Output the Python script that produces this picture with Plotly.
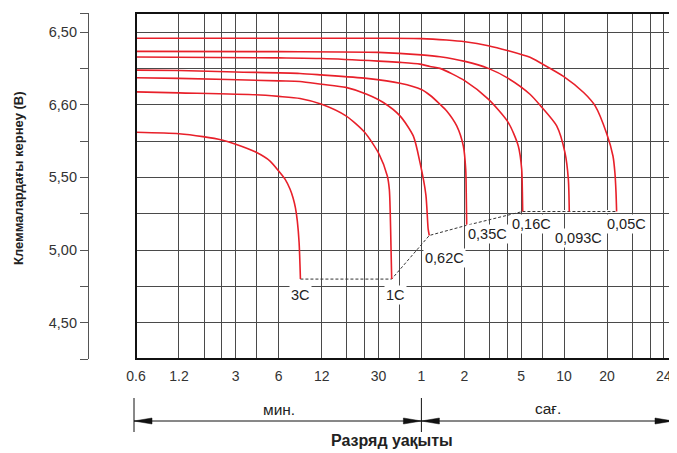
import math
import plotly.graph_objects as go

# ---------------- data (hours, volts) ----------------
c3_h = [0.01, 0.02, 0.0295, 0.04, 0.05, 0.069, 0.087, 0.10, 0.111, 0.12, 0.126, 0.131, 0.135, 0.139, 0.142]
c3_v = [5.81, 5.80, 5.78, 5.757, 5.728, 5.674, 5.612, 5.543, 5.486, 5.42, 5.36, 5.29, 5.20, 5.05, 4.80]

c1_h = [0.01, 0.02, 0.069, 0.10, 0.141, 0.20, 0.296, 0.40, 0.505, 0.577, 0.596, 0.605, 0.612, 0.619]
c1_v = [6.088, 6.081, 6.068, 6.057, 6.043, 6.003, 5.923, 5.81, 5.66, 5.509, 5.417, 5.25, 5.03, 4.80]

c062_h = [0.01, 0.02, 0.1, 0.141, 0.2, 0.296, 0.414, 0.541, 0.708, 0.877, 0.978, 1.075, 1.115, 1.136]
c062_v = [6.185, 6.181, 6.164, 6.160, 6.141, 6.119, 6.072, 6.015, 5.923, 5.785, 5.601, 5.38, 5.145, 5.10]

c035_h = [0.01, 0.02, 0.05, 0.141, 0.2, 0.414, 0.708, 1.0, 1.149, 1.35, 1.504, 1.768, 1.967, 2.044, 2.065, 2.077]
c035_v = [6.238, 6.235, 6.225, 6.215, 6.205, 6.181, 6.148, 6.105, 6.065, 6.003, 5.957, 5.854, 5.716, 5.555, 5.35, 5.17]

c016_h = [0.01, 0.1, 0.2, 0.5, 0.708, 0.978, 1.149, 1.35, 2.02, 2.943, 4.064, 4.775, 5.045, 5.10, 5.127]
c016_v = [6.328, 6.322, 6.318, 6.30, 6.291, 6.279, 6.263, 6.25, 6.164, 6.038, 5.877, 5.716, 5.555, 5.40, 5.265]

c0093_h = [0.01, 0.1, 0.5, 1.0, 1.35, 2.02, 2.943, 4.064, 5.768, 6.87, 8.87, 10.14, 10.71, 10.87]
c0093_v = [6.367, 6.365, 6.36, 6.343, 6.33, 6.298, 6.25, 6.181, 6.072, 5.99, 5.854, 5.67, 5.486, 5.265]

c005_h = [0.01, 0.5, 1.0, 1.5, 2.02, 2.943, 4.064, 5.768, 6.9, 9.9, 13.7, 16.5, 19.9, 22.0, 22.7, 23.1, 23.33]
c005_v = [6.457, 6.457, 6.455, 6.445, 6.433, 6.406, 6.371, 6.326, 6.285, 6.195, 6.084, 5.992, 5.80, 5.647, 5.532, 5.40, 5.265]

curve_labels = ["3C", "1C", "0,62C", "0,35C", "0,16C", "0,093C", "0,05C"]
label_h = [0.142, 0.66, 1.03, 2.054, 4.18, 8.36, 19.4]
label_v = [4.693, 4.693, 4.948, 5.107, 5.176, 5.086, 5.176]
label_anchor = ["center", "center", "left", "left", "left", "left", "left"]

x_tick_vals = [0.01, 0.02, 0.05, 0.1, 0.2, 0.5, 1, 2, 5, 10, 20, 50]
x_tick_text = ["0.6", "1.2", "3", "6", "12", "30", "1", "2", "5", "10", "20", "24"]
x_minor_vals = [0.03, 0.04, 0.07, 0.3, 0.4, 0.7, 3, 4, 7, 30, 40]

y_tick_vals = [4.25, 4.5, 4.75, 5.0, 5.25, 5.5, 5.75, 6.0, 6.25, 6.5, 6.6305]
y_tick_text = ["", "4,50", "", "5,00", "", "5,50", "", "6,60", "", "6,50", ""]

curves = [(c3_h, c3_v), (c1_h, c1_v), (c062_h, c062_v), (c035_h, c035_v),
          (c016_h, c016_v), (c0093_h, c0093_v), (c005_h, c005_v)]

# ---------------- layout geometry ----------------
# page body has an 8px margin, so the figure origin sits at (8, 8) in the window
OX, OY = 8, 8
W, H = 677 - OX, 453 - OY
ML = 88 - OX
MT = 13 - OY
MR = W - (674 - OX)
MB = H - (359 - OY)
PW = W - ML - MR
PH = H - MT - MB
X_DOM0 = (136 - 88) / PW
XR = [-2.0, math.log10(58.9)]
YR = [4.25, 6.631]

FONT = "Liberation Sans, Arial, Helvetica, sans-serif"
GRID = "#4a4a4a"
RED = "#e8202a"
TXT = "#222222"


def xpaper(h):
    return X_DOM0 + (1 - X_DOM0) * (math.log10(h) - XR[0]) / (XR[1] - XR[0])


def xp_pix(p):
    # p: window pixel
    return (p - 88) / PW


def yp_pix(p):
    return 1 - (p - 13) / PH


fig = go.Figure()

ends_h = [c[0][-1] for c in curves]
ends_v = [c[1][-1] for c in curves]
# white mask under the part of the cut-off line lying on a grid line
fig.add_trace(go.Scatter(x=ends_h[4:], y=ends_v[4:], mode="lines",
                         line=dict(color="white", width=3), hoverinfo="skip", showlegend=False))
# dashed cut-off line joining the curve ends
fig.add_trace(go.Scatter(x=ends_h, y=ends_v, mode="lines",
                         line=dict(color="#333333", width=1, dash="3px,2px"),
                         hoverinfo="skip", showlegend=False))

for h, v in curves:
    fig.add_trace(go.Scatter(x=h, y=v, mode="lines",
                             line=dict(color=RED, width=1.6, shape="spline", smoothing=0.7),
                             hoverinfo="skip", showlegend=False))

annotations = []
for t, h, v, a in zip(curve_labels, label_h, label_v, label_anchor):
    annotations.append(dict(x=math.log10(h), y=v, xref="x", yref="y", text=t, showarrow=False,
                            xanchor=a, yanchor="middle", bgcolor="white", borderpad=1,
                            font=dict(family=FONT, size=14.5, color=TXT)))


def paper_text(x, y, text, size, angle=0):
    return dict(x=x, y=y, xref="paper", yref="paper", text=text, showarrow=False,
                xanchor="center", yanchor="middle", textangle=angle,
                font=dict(family=FONT, size=size, color=TXT))


annotations += [
    paper_text((xpaper(0.01) + xpaper(1)) / 2, yp_pix(410), "мин.", 15.5),
    paper_text((xpaper(1) + 1) / 2, yp_pix(408), "сағ.", 15.5),
    paper_text(xp_pix(392), yp_pix(440), "<b>Разряд уақыты</b>", 16),
    paper_text(xp_pix(18), yp_pix(178), "<b>Клеммалардағы кернеу (В)</b>", 13, -90),
]

shapes = []
shapes.append(dict(type="rect", xref="paper", yref="paper", x0=X_DOM0, x1=1, y0=0, y1=1,
                   line=dict(color="#111111", width=2), layer="above"))
ya = yp_pix(421)
xl, xm, xr = xpaper(0.01) - 2 / PW, xpaper(1), 1 - 1 / PW
shapes.append(dict(type="line", xref="paper", yref="paper", x0=xl, x1=xr, y0=ya, y1=ya,
                   line=dict(color="#111111", width=1)))
for xv in (xl, xm, xr):
    shapes.append(dict(type="line", xref="paper", yref="paper", x0=xv, x1=xv,
                       y0=yp_pix(398), y1=yp_pix(432), line=dict(color="#111111", width=1)))
AL = 18 / PW
AH = 3 / PH
for tip, d in ((xl, 1), (xm, -1), (xm, 1), (xr, -1)):
    path = f"M {tip},{ya} L {tip + d * AL},{ya + AH} L {tip + d * AL},{ya - AH} Z"
    shapes.append(dict(type="path", xref="paper", yref="paper", path=path,
                       fillcolor="#111111", line=dict(color="#111111", width=0.5)))

fig.update_layout(
    width=W, height=H,
    margin=dict(l=ML, r=MR, t=MT, b=MB, pad=0),
    paper_bgcolor="white", plot_bgcolor="white",
    font=dict(family=FONT, size=14, color=TXT),
    showlegend=False,
    xaxis=dict(type="log", range=XR, domain=[X_DOM0, 1], showline=False, ticks="",
               tickmode="array", tickvals=x_tick_vals, ticktext=x_tick_text,
               showgrid=True, gridcolor=GRID, gridwidth=1.4, zeroline=False,
               minor=dict(tickmode="array", tickvals=x_minor_vals, showgrid=True,
                          gridcolor=GRID, gridwidth=1.4, ticks=""),
               tickfont=dict(family=FONT, size=14, color="#333333"),
               ticklabelstandoff=7, automargin=False, fixedrange=True),
    yaxis=dict(range=YR, anchor="free", position=0, showline=True, linecolor="#555555",
               linewidth=1.2, ticks="outside", ticklen=8, tickwidth=1.2, tickcolor="#555555",
               tickmode="array", tickvals=y_tick_vals, ticktext=y_tick_text,
               showgrid=True, gridcolor=GRID, gridwidth=1.4, zeroline=False,
               tickfont=dict(family=FONT, size=14.5, color="#333333"),
               automargin=False, fixedrange=True),
    annotations=annotations,
    shapes=shapes,
)

fig.write_html("out.html")
